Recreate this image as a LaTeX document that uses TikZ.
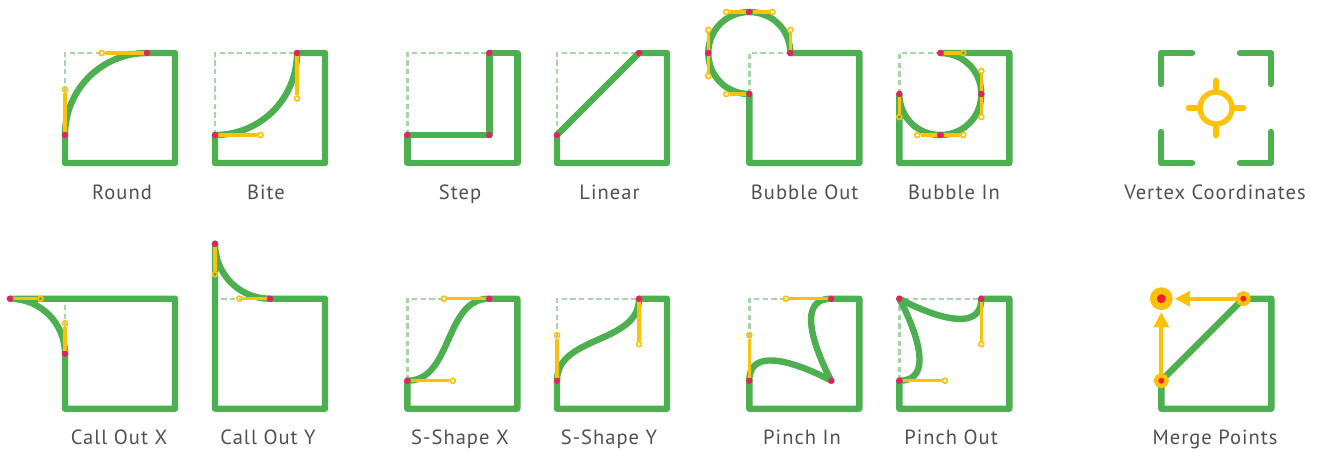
\documentclass[tikz,border=0pt]{standalone}
\usepackage{fontspec}
\setmainfont[LetterSpace=5]{PT Sans}
\usetikzlibrary{arrows.meta,backgrounds}
\definecolor{zold}{HTML}{4CAF50}
\definecolor{halvany}{HTML}{A5D6A7}
\definecolor{sarga}{HTML}{FFC107}
\definecolor{rozsa}{HTML}{E91E63}
\definecolor{piros}{HTML}{F0202A}
\definecolor{szurke}{HTML}{505050}
\tikzset{
  keret/.style={draw=zold,line width=4.8pt,line join=round},
  sarok/.style={draw=zold,line width=4.8pt,line join=round,line cap=round},
  szagg/.style={draw=halvany,line width=1.8pt,dash pattern=on 4pt off 2.5pt},
  fogo/.style={draw=sarga,line width=2.5pt},
  pont/.style={circle,fill=rozsa,inner sep=0pt,minimum size=4.8pt,outer sep=0pt},
  ures/.style={circle,draw=sarga,line width=1.2pt,inner sep=0pt,minimum size=3.8pt},
  cel/.style={circle,draw=sarga,fill=piros,inner sep=0pt,outer sep=0pt},
  nyil/.style={draw=sarga,line width=3pt,shorten >=4pt,-{Triangle[length=11.5pt,width=11pt]}},
  cimke/.style={anchor=base,text=szurke,font=\fontsize{15.4}{18}\selectfont,inner sep=0pt},
}
\begin{document}
\begin{tikzpicture}[x=0.75pt,y=-0.75pt]
  \useasboundingbox (0,0) rectangle (1322,451);
  % felso sor
  \begin{scope}[shift={(65,53)}]
    \node[pont] (ro1) at (0,82) {}; \node[pont] (ro2) at (82,0) {};
    \node[ures] (ro3) at (0,36.5) {}; \node[ures] (ro4) at (36.5,0) {};
    \draw[fogo] (ro1) -- (ro3); \draw[fogo] (ro2) -- (ro4);
    \begin{scope}[on background layer]
      \draw[szagg] (ro1.center) |- (ro2.center);
      \draw[keret] (ro1.center) .. controls (ro3.center) and (ro4.center) .. (ro2.center) -- (110,0) -- (110,110) -- (0,110) -- cycle;
    \end{scope}
  \end{scope}
  \begin{scope}[shift={(215,53)}]
    \node[pont] (bi1) at (0,82) {}; \node[pont] (bi2) at (82,0) {};
    \node[ures] (bi3) at (45.5,82) {}; \node[ures] (bi4) at (82,45.5) {};
    \draw[fogo] (bi1) -- (bi3); \draw[fogo] (bi2) -- (bi4);
    \begin{scope}[on background layer]
      \draw[szagg] (bi1.center) |- (bi2.center);
      \draw[keret] (bi1.center) .. controls (bi3.center) and (bi4.center) .. (bi2.center) -- (110,0) -- (110,110) -- (0,110) -- cycle;
    \end{scope}
  \end{scope}
  \begin{scope}[shift={(407.3,53)}]
    \node[pont] (st1) at (0,82) {}; \node[pont] (st2) at (82,82) {}; \node[pont] (st3) at (82,0) {};
    \begin{scope}[on background layer]
      \draw[szagg] (st1.center) |- (st3.center);
      \draw[keret] (st1.center) -- (st2.center) -- (st3.center) -- (110,0) -- (110,110) -- (0,110) -- cycle;
    \end{scope}
  \end{scope}
  \begin{scope}[shift={(557,53)}]
    \node[pont] (li1) at (0,82) {}; \node[pont] (li2) at (82,0) {};
    \begin{scope}[on background layer]
      \draw[szagg] (li1.center) |- (li2.center);
      \draw[keret] (li1.center) -- (li2.center) -- (110,0) -- (110,110) -- (0,110) -- cycle;
    \end{scope}
  \end{scope}
  \begin{scope}[shift={(749.3,53)}]
    \node[pont] (bo1) at (0,41) {}; \node[pont] (bo2) at (-41,0) {};
    \node[pont] (bo3) at (0,-41) {}; \node[pont] (bo4) at (41,0) {};
    \node[ures] (bo5) at (-23,41) {}; \node[ures] (bo6) at (-41,23) {};
    \node[ures] (bo7) at (-41,-23) {}; \node[ures] (bo8) at (-23,-41) {};
    \node[ures] (bo9) at (23,-41) {}; \node[ures] (bo10) at (41,-23) {};
    \draw[fogo] (bo1) -- (bo5); \draw[fogo] (bo2) -- (bo6); \draw[fogo] (bo2) -- (bo7);
    \draw[fogo] (bo3) -- (bo8); \draw[fogo] (bo3) -- (bo9); \draw[fogo] (bo4) -- (bo10);
    \begin{scope}[on background layer]
      \draw[szagg] (bo1.center) |- (bo4.center);
      \draw[keret] (bo1.center) .. controls (bo5.center) and (bo6.center) .. (bo2.center)
        .. controls (bo7.center) and (bo8.center) .. (bo3.center)
        .. controls (bo9.center) and (bo10.center) .. (bo4.center) -- (110,0) -- (110,110) -- (0,110) -- cycle;
    \end{scope}
  \end{scope}
  \begin{scope}[shift={(899.3,53)}]
    \node[pont] (bb1) at (0,41) {}; \node[pont] (bb2) at (41,82) {};
    \node[pont] (bb3) at (82,41) {}; \node[pont] (bb4) at (41,0) {};
    \node[ures] (bb5) at (0,64) {}; \node[ures] (bb6) at (18,82) {};
    \node[ures] (bb7) at (64,82) {}; \node[ures] (bb8) at (82,64) {};
    \node[ures] (bb9) at (82,18) {}; \node[ures] (bb10) at (64,0) {};
    \draw[fogo] (bb1) -- (bb5); \draw[fogo] (bb2) -- (bb6); \draw[fogo] (bb2) -- (bb7);
    \draw[fogo] (bb3) -- (bb8); \draw[fogo] (bb3) -- (bb9); \draw[fogo] (bb4) -- (bb10);
    \begin{scope}[on background layer]
      \draw[szagg] (bb1.center) |- (bb4.center);
      \draw[keret] (bb1.center) .. controls (bb5.center) and (bb6.center) .. (bb2.center)
        .. controls (bb7.center) and (bb8.center) .. (bb3.center)
        .. controls (bb9.center) and (bb10.center) .. (bb4.center) -- (110,0) -- (110,110) -- (0,110) -- cycle;
    \end{scope}
  \end{scope}
  \begin{scope}[shift={(1161,53)}]
    \draw[sarok] (0,31) -- (0,0) -- (31,0);
    \draw[sarok] (79,0) -- (110,0) -- (110,31);
    \draw[sarok] (0,79) -- (0,110) -- (31,110);
    \draw[sarok] (79,110) -- (110,110) -- (110,79);
    \node[circle,draw=sarga,line width=4pt,inner sep=0pt,minimum size=24pt] (kor) at (55,55) {};
    \draw[sarga,line width=4pt,line cap=round] (kor.north) -- ++(0,-9);
    \draw[sarga,line width=4pt,line cap=round] (kor.south) -- ++(0,9);
    \draw[sarga,line width=4pt,line cap=round] (kor.west) -- ++(-9,0);
    \draw[sarga,line width=4pt,line cap=round] (kor.east) -- ++(9,0);
  \end{scope}
  % also sor
  \begin{scope}[shift={(65,298.7)}]
    \node[pont] (cx1) at (-55,0) {}; \node[pont] (cx2) at (0,55) {};
    \node[ures] (cx3) at (-24.5,0) {}; \node[ures] (cx4) at (0,24.5) {};
    \draw[fogo] (cx1) -- (cx3); \draw[fogo] (cx2) -- (cx4);
    \begin{scope}[on background layer]
      \draw[szagg] (cx2.center) -- (0,0);
      \draw[keret] (cx2.center) .. controls (cx4.center) and (cx3.center) .. (cx1.center) -- (110,0) -- (110,110) -- (0,110) -- cycle;
    \end{scope}
  \end{scope}
  \begin{scope}[shift={(215,298.7)}]
    \node[pont] (cy1) at (0,-55) {}; \node[pont] (cy2) at (55,0) {};
    \node[ures] (cy3) at (0,-24.5) {}; \node[ures] (cy4) at (24.5,0) {};
    \draw[fogo] (cy1) -- (cy3); \draw[fogo] (cy2) -- (cy4);
    \begin{scope}[on background layer]
      \draw[szagg] (cy2.center) -- (0,0);
      \draw[keret] (cy1.center) .. controls (cy3.center) and (cy4.center) .. (cy2.center) -- (110,0) -- (110,110) -- (0,110) -- cycle;
    \end{scope}
  \end{scope}
  \begin{scope}[shift={(407.3,298.7)}]
    \node[pont] (sx1) at (0,82) {}; \node[pont] (sx2) at (82,0) {};
    \node[ures] (sx3) at (45.5,82) {}; \node[ures] (sx4) at (36.5,0) {};
    \draw[fogo] (sx1) -- (sx3); \draw[fogo] (sx2) -- (sx4);
    \begin{scope}[on background layer]
      \draw[szagg] (sx1.center) |- (sx2.center);
      \draw[keret] (sx1.center) .. controls (sx3.center) and (sx4.center) .. (sx2.center) -- (110,0) -- (110,110) -- (0,110) -- cycle;
    \end{scope}
  \end{scope}
  \begin{scope}[shift={(557,298.7)}]
    \node[pont] (sy1) at (0,82) {}; \node[pont] (sy2) at (82,0) {};
    \node[ures] (sy3) at (0,36.5) {}; \node[ures] (sy4) at (82,45.5) {};
    \draw[fogo] (sy1) -- (sy3); \draw[fogo] (sy2) -- (sy4);
    \begin{scope}[on background layer]
      \draw[szagg] (sy1.center) |- (sy2.center);
      \draw[keret] (sy1.center) .. controls (sy3.center) and (sy4.center) .. (sy2.center) -- (110,0) -- (110,110) -- (0,110) -- cycle;
    \end{scope}
  \end{scope}
  \begin{scope}[shift={(749.3,298.7)}]
    \node[pont] (pi1) at (0,82) {}; \node[pont] (pi2) at (82,82) {}; \node[pont] (pi3) at (82,0) {};
    \node[ures] (pi4) at (0,36.5) {}; \node[ures] (pi5) at (36.5,0) {};
    \draw[fogo] (pi1) -- (pi4); \draw[fogo] (pi3) -- (pi5);
    \begin{scope}[on background layer]
      \draw[szagg] (pi1.center) |- (pi3.center);
      \draw[keret] (pi1.center) .. controls (pi4.center) and (pi2.center) .. (pi2.center)
        .. controls (pi2.center) and (pi5.center) .. (pi3.center) -- (110,0) -- (110,110) -- (0,110) -- cycle;
    \end{scope}
  \end{scope}
  \begin{scope}[shift={(899.3,298.7)}]
    \node[pont] (po1) at (0,82) {}; \node[pont] (po2) at (0,0) {}; \node[pont] (po3) at (82,0) {};
    \node[ures] (po4) at (45.5,82) {}; \node[ures] (po5) at (82,45.5) {};
    \draw[fogo] (po1) -- (po4); \draw[fogo] (po3) -- (po5);
    \begin{scope}[on background layer]
      \draw[szagg] (po1.center) -- (po2.center) -- (po3.center);
      \draw[keret] (po1.center) .. controls (po4.center) and (po2.center) .. (po2.center)
        .. controls (po2.center) and (po5.center) .. (po3.center) -- (110,0) -- (110,110) -- (0,110) -- cycle;
    \end{scope}
  \end{scope}
  \begin{scope}[shift={(1161.3,298.7)}]
    \node[cel,line width=3.15pt,minimum size=8.1pt] (me1) at (0,82) {};
    \node[cel,line width=3.15pt,minimum size=8.1pt] (me2) at (82,0) {};
    \node[cel,line width=5.1pt,minimum size=11.9pt] (me3) at (0,0) {};
    \draw[nyil] (me1) -- (me3); \draw[nyil] (me2) -- (me3);
    \begin{scope}[on background layer]
      \draw[keret] (me1.center) -- (me2.center) -- (110,0) -- (110,110) -- (0,110) -- cycle;
    \end{scope}
  \end{scope}
  % feliratok
  \node[cimke] (t1) at (122,199.2) {Round};
  \node[cimke] (t2) at (266,199.2) {Bite};
  \node[cimke] (t3) at (460,199.2) {Step};
  \node[cimke] (t4) at (609.5,199.2) {Linear};
  \node[cimke] (t5) at (804.7,199.2) {Bubble Out};
  \node[cimke] (t6) at (954,199.2) {Bubble In};
  \node[cimke] (t7) at (1215,199.2) {Vertex Coordinates};
  \node[cimke] (t8) at (119,444.5) {Call Out X};
  \node[cimke] (t9) at (268,444.5) {Call Out Y};
  \node[cimke] (t10) at (460,444.5) {S-Shape X};
  \node[cimke] (t11) at (609,444.5) {S-Shape Y};
  \node[cimke] (t12) at (802,444.5) {Pinch In};
  \node[cimke] (t13) at (951,444.5) {Pinch Out};
  \node[cimke] (t14) at (1215,444.5) {Merge Points};
\end{tikzpicture}
\end{document}
